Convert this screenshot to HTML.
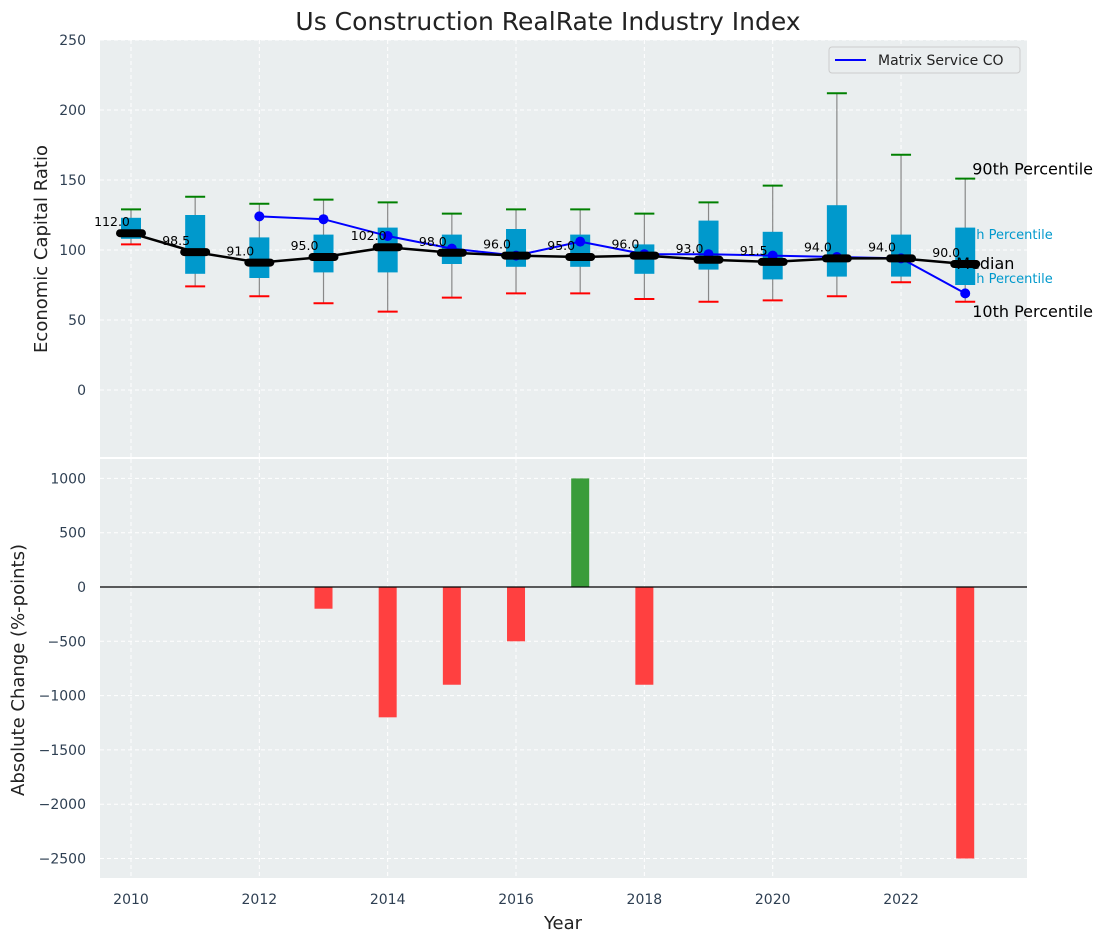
<!DOCTYPE html>
<html><head><meta charset="utf-8"><style>
body{margin:0;background:#fff;}
svg text{font-family:"DejaVu Sans","Liberation Sans",sans-serif;}
</style></head><body>
<svg id="chart" width="1107" height="942" xmlns="http://www.w3.org/2000/svg">
<text x="548" y="30" font-size="25" text-anchor="middle" fill="#222">Us Construction RealRate Industry Index</text>
<rect x="100" y="40" width="927" height="417" fill="#eaeeef"/>
<rect x="100" y="459" width="927" height="419" fill="#eaeeef"/>
<g id="topg"></g><g id="botg"></g>
<text transform="translate(47,249) rotate(-90)" font-size="18" text-anchor="middle" fill="#222">Economic Capital Ratio</text>
<text transform="translate(24,670) rotate(-90)" font-size="18" text-anchor="middle" fill="#222">Absolute Change (%-points)</text>
<text x="563" y="929" font-size="18" text-anchor="middle" fill="#222">Year</text>
<g>
<rect x="829" y="47" width="191" height="26" rx="3" fill="#eaeeef" stroke="#ccc"/>
<line x1="835" y1="60" x2="866" y2="60" stroke="blue" stroke-width="2"/>
<text x="878" y="65" font-size="14" fill="#222">Matrix Service CO</text>
</g>
</svg>
<script>
const years=[2010,2011,2012,2013,2014,2015,2016,2017,2018,2019,2020,2021,2022,2023];
const median=[112,98.5,91,95,102,98,96,95,96,93,91.5,94,94,90];
const p90=[129,138,133,136,134,126,129,129,126,134,146,212,168,151];
const p10=[104,74,67,62,56,66,69,69,65,63,64,67,77,63];
const p75=[123,125,109,111,116,111,115,111,104,121,113,132,111,116];
const p25=[108,83,80,84,84,90,88,88,83,86,79,81,81,75];
const company=[null,null,124,122,110,101,96,106,97,97,96,95,94,69];
const change=[0,0,0,-200,-1200,-900,-500,1000,-900,0,0,0,0,-2500];
const topTicks=[0,50,100,150,200,250];
const botTicks=[-2500,-2000,-1500,-1000,-500,0,500,1000];
const xTicks=[2010,2012,2014,2016,2018,2020,2022];

const NS="http://www.w3.org/2000/svg";
const X=y=>131+(y-2010)*64.17;
const Y=v=>390-v*1.4;
const Yb=v=>587-v*0.1086;
function mk(p,tag,a,txt){const e=document.createElementNS(NS,tag);for(const k in a)e.setAttribute(k,a[k]);if(txt!==undefined)e.textContent=txt;p.appendChild(e);return e;}
const topG=document.getElementById('topg'),botG=document.getElementById('botg');
const svgEl=document.getElementById('chart');

xTicks.forEach(t=>{
 let g=mk(topG,'line',{x1:X(t),x2:X(t),y1:40,y2:457,stroke:'#fff','stroke-dasharray':'4,3'});
 
 
 g=mk(botG,'line',{x1:X(t),x2:X(t),y1:459,y2:878,stroke:'#fff','stroke-dasharray':'4,3'});
 
 
 const l=mk(svgEl,'text',{x:X(t),y:904,'font-size':14,'text-anchor':'middle',fill:'#2e3f52'},String(t));
 
 
});
topTicks.forEach(t=>{
 const g=mk(topG,'line',{x1:100,x2:1027,y1:Y(t),y2:Y(t),stroke:'#fff','stroke-dasharray':'4,3'});
 
 
 const l=mk(svgEl,'text',{x:86,y:Y(t)+5,'font-size':14,'text-anchor':'end',fill:'#2e3f52'},String(t));
 
 
});
botTicks.forEach(t=>{
 const g=mk(botG,'line',{x1:100,x2:1027,y1:Yb(t),y2:Yb(t),stroke:'#fff','stroke-dasharray':'4,3'});
 
 
 const l=mk(svgEl,'text',{x:86,y:Yb(t)+5,'font-size':14,'text-anchor':'end',fill:'#2e3f52'},t<0?'\u2212'+Math.abs(t):String(t));
 
 
});

years.forEach((yr,i)=>{
 const x=X(yr);
 const w=mk(topG,'line',{x1:x,x2:x,y1:Y(p90[i]),y2:Y(p10[i]),stroke:'#888','stroke-width':1.2});
 
 
 const b=mk(topG,'rect',{x:x-10,y:Y(p75[i]),width:20,height:Y(p25[i])-Y(p75[i]),fill:'#0099cc'});
 
 
 const c1=mk(topG,'line',{x1:x-10,x2:x+10,y1:Y(p90[i]),y2:Y(p90[i]),stroke:'green','stroke-width':2});
 
 
 const c2=mk(topG,'line',{x1:x-10,x2:x+10,y1:Y(p10[i]),y2:Y(p10[i]),stroke:'red','stroke-width':2});
 
 
});
let pts=[];years.forEach((yr,i)=>{if(company[i]!==null)pts.push(X(yr)+','+Y(company[i]));});
const cl=mk(topG,'polyline',{points:pts.join(' '),fill:'none',stroke:'blue','stroke-width':2});


years.forEach((yr,i)=>{if(company[i]===null)return;
 const d=mk(topG,'circle',{cx:X(yr),cy:Y(company[i]),r:5,fill:'blue'});
 
 
});
const ml=mk(topG,'polyline',{points:years.map((yr,i)=>X(yr)+','+Y(median[i])).join(' '),fill:'none',stroke:'#000','stroke-width':2.5});


years.forEach((yr,i)=>{
 const m=mk(topG,'rect',{x:X(yr)-15,y:Y(median[i])-4,width:30,height:8,rx:4,fill:'#000'});
 
 
 const t=mk(topG,'text',{x:X(yr)-19,y:Y(median[i])-7,'font-size':12.5,'text-anchor':'middle',fill:'#000'},median[i].toFixed(1));
 
 
});
const last=years.length-1,xl=X(years[last]);
[[xl+7,Y(p90[last])-4,'90th Percentile','#000',16,'p90-annotation'],
 [xl+11,239,'h Percentile','#0099cc',13,'p75-annotation'],
 [xl-9,Y(median[last])+5,'Median','#000',16,'median-annotation'],
 [xl+11,283,'h Percentile','#0099cc',13,'p25-annotation'],
 [xl+7,Y(p10[last])+15,'10th Percentile','#000',16,'p10-annotation']].forEach(a=>{
 const t=mk(svgEl,'text',{x:a[0],y:a[1],'font-size':a[4],fill:a[3]},a[2]);
 
 
});
years.forEach((yr,i)=>{
 if(change[i]===0)return;
 const v=change[i];
 const r=mk(botG,'rect',{x:X(yr)-9,y:Math.min(Yb(v),Yb(0)),width:18,height:Math.abs(Yb(v)-Yb(0)),fill:v>0?'#3a9c3a':'#ff4040'});
 
 
});
const zl=mk(botG,'line',{x1:100,x2:1027,y1:Yb(0),y2:Yb(0),stroke:'#000','stroke-width':1.3});


</script>
</body></html>
